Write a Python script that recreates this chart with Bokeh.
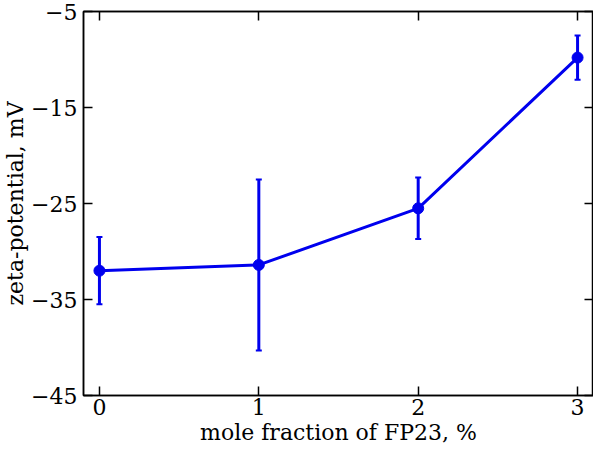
from bokeh.plotting import figure
from bokeh.models import ColumnDataSource, Whisker, TeeHead, LinearAxis, FixedTicker, Range1d
from bokeh.embed import file_html
from bokeh.resources import INLINE

fraction = [0, 1, 2, 3]
zeta = [-32.0, -31.4, -25.5, -9.8]
err = [3.5, 8.9, 3.2, 2.3]
x_ticks = [0, 1, 2, 3]
y_ticks = [-45, -35, -25, -15, -5]

lower = [z - e for z, e in zip(zeta, err)]
upper = [z + e for z, e in zip(zeta, err)]
src = ColumnDataSource(dict(x=fraction, y=zeta, lower=lower, upper=upper))

FONT = "DejaVu Serif"
FS = "22px"
p = figure(width=593, height=447, output_backend="svg", toolbar_location=None,
           x_range=Range1d(-0.1, 3.1), y_range=Range1d(-45, -5),
           min_border_left=74, min_border_right=0, min_border_top=11, min_border_bottom=10)
p.grid.visible = False
p.outline_line_color = "black"
p.outline_line_width = 1.5
p.background_fill_color = "white"
p.border_fill_color = "white"

def style(ax, labels=True):
    ax.major_tick_in = 9
    ax.major_tick_out = 0
    ax.minor_tick_line_color = None
    ax.axis_line_width = 1.5
    ax.axis_line_color = "black"
    ax.major_tick_line_width = 1.5
    ax.major_tick_line_color = "black"
    ax.major_label_text_font = FONT
    ax.major_label_text_font_size = FS
    ax.major_label_text_color = "black"
    ax.axis_label_text_font = FONT
    ax.axis_label_text_font_size = FS
    ax.axis_label_text_font_style = "normal"
    ax.axis_label_text_color = "black"
    ax.major_label_standoff = 6
    if not labels:
        ax.major_label_text_font_size = "0px"
        ax.major_label_text_color = None
        ax.major_label_standoff = 0

p.xaxis.ticker = FixedTicker(ticks=x_ticks)
p.yaxis.ticker = FixedTicker(ticks=y_ticks)
p.xaxis.axis_label = "mole fraction of FP23, %"
p.yaxis.axis_label = "zeta-potential, mV"
p.xaxis.major_label_overrides = {t: str(t) for t in x_ticks}
p.yaxis.major_label_overrides = {t: str(t).replace("-", "\u2212") for t in y_ticks}
style(p.xaxis[0])
style(p.yaxis[0])
p.xaxis.major_label_standoff = 3
p.xaxis.axis_label_standoff = 2
p.yaxis.axis_label_standoff = 0

top = LinearAxis(ticker=FixedTicker(ticks=x_ticks))
right = LinearAxis(ticker=FixedTicker(ticks=y_ticks))
style(top, labels=False)
style(right, labels=False)
p.add_layout(top, "above")
p.add_layout(right, "right")

w = Whisker(source=src, base="x", lower="lower", upper="upper",
            line_color="#0000ee", line_width=3,
            upper_head=TeeHead(size=6, line_color="#0000ee", line_width=2),
            lower_head=TeeHead(size=6, line_color="#0000ee", line_width=2))
p.add_layout(w)
p.line("x", "y", source=src, line_color="#0000ee", line_width=3)
p.scatter("x", "y", source=src, size=11, fill_color="#0000ee", line_color="#0000ee")

open("out.html", "w").write(file_html(p, INLINE))
